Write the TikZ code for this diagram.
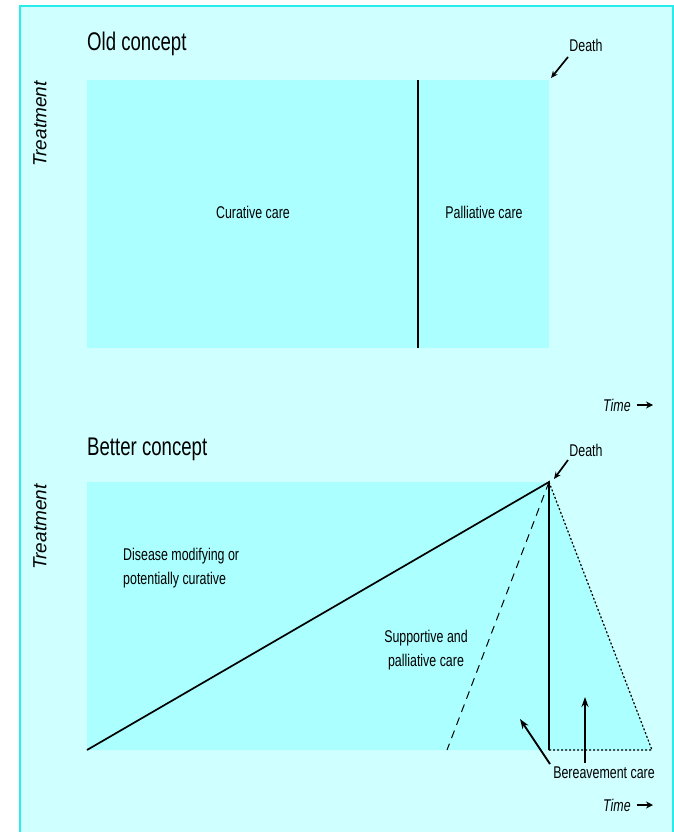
\documentclass[tikz,border=0pt]{standalone}
\usepackage{fontspec}
\setmainfont{Liberation Sans}[FakeStretch=0.73]
\newfontfamily\axisfont{Liberation Sans}
\usetikzlibrary{arrows.meta}
\definecolor{panelbg}{RGB}{208,255,255}
\definecolor{panelrim}{RGB}{40,235,235}
\definecolor{carefill}{RGB}{172,255,255}
\begin{document}
\begin{tikzpicture}[x=1pt,y=-1pt]
% Styles
\tikzstyle{title} = [font=\fontsize{25.5}{28}\selectfont, anchor=west, inner sep=0pt]
\tikzstyle{lbl} = [font=\fontsize{17}{24}\selectfont, align=center, inner sep=0pt]
\tikzstyle{axislbl} = [font=\axisfont\itshape\fontsize{19}{21}\selectfont, rotate=90, inner sep=0pt]
\tikzstyle{timelbl} = [font=\itshape\fontsize{17}{20}\selectfont, anchor=west, inner sep=0pt]
\tikzstyle{pointer} = [-{Stealth[length=7pt,width=6pt]}, line width=1.7pt]
\useasboundingbox (0,0) rectangle (673,832);
\draw[panelrim, line width=2pt, fill=panelbg] (20,6) rectangle (673,834);

% Old concept
\node[title] (oldtitle) at (87,44) {Old concept};
\fill[carefill] (87,80) rectangle (549,348);
\coordinate (olddeath) at (551,78);
\draw[line width=1.1pt] (418,80) -- (418,348);
\node[axislbl] (treatold) at (40,124) {Treatment};
\node[lbl] (curative) at (253,212) {Curative care};
\node[lbl] (palliative) at (484,212) {Palliative care};
\node[lbl] (deathold) at (586,45) {Death};
\draw[pointer] (568,57) -- (olddeath);
\node[timelbl] (timeold) at (603,405) {Time};
\coordinate (timeoldend) at (653,405);
\draw[-{Stealth[length=7pt,width=7pt]}, line width=1.6pt] ([xshift=6pt]timeold.east) -- (timeoldend);

% Better concept
\node[title] (bettertitle) at (87,449) {Better concept};
\coordinate (apex) at (549,482);
\coordinate (start) at (87,750);
\coordinate (footdash) at (447,750);
\coordinate (footline) at (549,750);
\coordinate (footdot) at (652,750);
\fill[carefill] (87,482) -- (apex) -- (footdot) -- (start) -- cycle;
\draw[line width=1.7pt] (start) -- (apex) -- (footline);
\draw[line width=1pt, dash pattern=on 8pt off 6pt] (apex) -- (footdash);
\draw[line width=1.2pt, dash pattern=on 2pt off 2pt] (apex) -- (footdot) -- (footline);
\node[axislbl] (treatbetter) at (40,527) {Treatment};
\node[lbl, align=left, anchor=north west] (disease) at (123,548) {Disease modifying or\\potentially curative};
\node[lbl] (supportive) at (426,650) {Supportive and\\palliative care};
\node[lbl] (deathbetter) at (586,450) {Death};
\draw[pointer] (568,460) -- (554,479);
\node[lbl] (bereave) at (604,773) {Bereavement care};
\coordinate (bereavein) at (520,719);
\coordinate (bereaveout) at (585,697);
\draw[-{Stealth[length=10pt,width=7pt]}, line width=1.9pt] (550,764) -- (bereavein);
\draw[-{Stealth[length=10pt,width=7pt]}, line width=1.9pt] (585,763) -- (bereaveout);
\node[timelbl] (timebetter) at (603,805) {Time};
\coordinate (timebetterend) at (653,805);
\draw[-{Stealth[length=7pt,width=7pt]}, line width=1.6pt] ([xshift=6pt]timebetter.east) -- (timebetterend);
\end{tikzpicture}
\end{document}
